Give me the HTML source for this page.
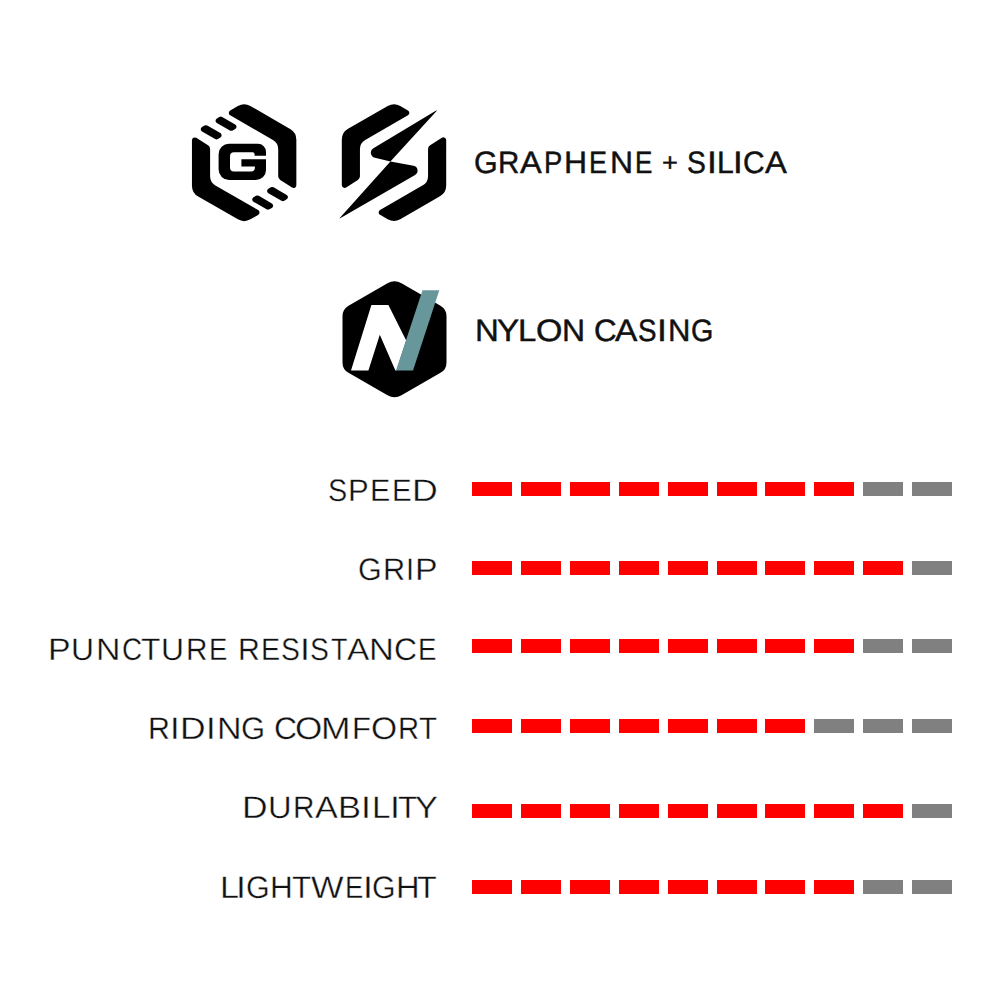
<!DOCTYPE html>
<html><head><meta charset="utf-8"><style>
html,body{margin:0;padding:0;background:#fff;width:1000px;height:1000px;overflow:hidden}
body{position:relative;font-family:"Liberation Sans",sans-serif;color:#111}
.ic{position:absolute;left:0;top:0}
i{position:absolute;width:40px;height:14px;display:block}
b.c{position:absolute;font-weight:400;font-size:31px;line-height:31px;white-space:nowrap;transform-origin:0 0;-webkit-text-stroke:0.35px #fff;text-rendering:geometricPrecision}
b.h{-webkit-text-stroke:0.45px #111}
</style></head><body>
<svg class="ic" width="1000" height="420" viewBox="0 0 1000 420"><path fill="#000" d="M230.2,110.48L237.9,106.03A12.5,12.5 0 0 1 250.4,106.03L290.1,128.95A12.5,12.5 0 0 1 296.35,139.78L296.35,185.19A2.8,2.8 0 0 1 292.04,187.55L280.28,180.03A4.5,4.5 0 0 1 278.2,176.24L278.2,149.1A10.5,10.5 0 0 0 272.95,140.01L230.2,115.33A2.8,2.8 0 0 1 230.2,110.48ZM258.1,214.92L250.4,219.37A12.5,12.5 0 0 1 237.9,219.37L198.2,196.45A12.5,12.5 0 0 1 191.95,185.62L191.95,140.21A2.8,2.8 0 0 1 196.26,137.85L208.02,145.37A4.5,4.5 0 0 1 210.1,149.16L210.1,176.3A10.5,10.5 0 0 0 215.35,185.39L258.1,210.07A2.8,2.8 0 0 1 258.1,214.92ZM286.7,199.33L284.25,200.75A2.8,2.8 0 0 1 281.45,200.75L268.35,193.18A2.57,2.57 0 0 1 268.35,188.74L270.8,187.32A2.8,2.8 0 0 1 273.6,187.32L286.7,194.89A2.57,2.57 0 0 1 286.7,199.33ZM202,126.97L204.45,125.55A2.8,2.8 0 0 1 207.25,125.55L220.35,133.12A2.57,2.57 0 0 1 220.35,137.56L217.9,138.98A2.8,2.8 0 0 1 215.1,138.98L202,131.41A2.57,2.57 0 0 1 202,126.97ZM271.85,207.91L269.35,209.35A2.8,2.8 0 0 1 266.55,209.35L253.5,201.82A2.6,2.6 0 0 1 253.5,197.31L256,195.87A2.8,2.8 0 0 1 258.8,195.87L271.85,203.4A2.6,2.6 0 0 1 271.85,207.91ZM216.85,118.39L219.35,116.95A2.8,2.8 0 0 1 222.15,116.95L235.2,124.48A2.6,2.6 0 0 1 235.2,128.99L232.7,130.43A2.8,2.8 0 0 1 229.9,130.43L216.85,122.9A2.6,2.6 0 0 1 216.85,118.39ZM407.95,110.38L400.25,105.93A12.5,12.5 0 0 0 387.75,105.93L348.05,128.85A12.5,12.5 0 0 0 341.8,139.68L341.8,185.09A2.8,2.8 0 0 0 346.11,187.45L357.87,179.93A4.5,4.5 0 0 0 359.95,176.14L359.95,149A10.5,10.5 0 0 1 365.2,139.91L407.95,115.23A2.8,2.8 0 0 0 407.95,110.38ZM380.05,214.82L387.75,219.27A12.5,12.5 0 0 0 400.25,219.27L439.95,196.35A12.5,12.5 0 0 0 446.2,185.52L446.2,140.11A2.8,2.8 0 0 0 441.89,137.75L430.13,145.27A4.5,4.5 0 0 0 428.05,149.06L428.05,176.2A10.5,10.5 0 0 1 422.8,185.29L380.05,209.97A2.8,2.8 0 0 0 380.05,214.82ZM436.23,110.56L373.41,148.14A5.3,5.3 0 0 0 374.94,157.85L390.4,161.4L436.61,111.02A0.3,0.3 0 0 0 436.23,110.56ZM390.4,161.4L413.54,165.86A5,5 0 0 1 415.09,175.1L340.13,218.36A0.3,0.3 0 0 1 339.75,217.9L390.4,161.4ZM266,155.7L266,152A8,8 0 0 0 258,143.8L229,143.8A10.4,10.4 0 0 0 218.6,154.2L218.6,169.6A10.4,10.4 0 0 0 229,180L256,180A10,10 0 0 0 266,170L266,159.2L241.4,159.2L241.4,166.6L254.9,166.6L254.9,167.6A4,4 0 0 1 250.9,171.6L234,171.6A4,4 0 0 1 230,167.6L230,156.3A4,4 0 0 1 234,152.3L252.6,152.3A2,2 0 0 1 254.6,154.3L254.6,155.7Z"/><path fill="#000" d="M401.5,283.35L440.5,305.86A12,12 0 0 1 446.5,316.26L446.5,362.44A12,12 0 0 1 440.5,372.84L401.5,395.35A14,14 0 0 1 387.5,395.35L348.5,372.84A12,12 0 0 1 342.5,362.44L342.5,316.26A12,12 0 0 1 348.5,305.86L387.5,283.35A14,14 0 0 1 401.5,283.35Z"/><path fill="#fff" d="M351,370.5L371.4,305.1L388.4,305.1L406.2,340.5L396.5,370.5L395.4,370.5L379.8,334.8L368.4,370.5Z"/><path fill="#67979b" d="M422.5,290.2L439.3,290.2L413,370.5L396,370.5Z"/></svg><i style="left:472.0px;top:482px;background:#ff0000"></i><i style="left:520.9px;top:482px;background:#ff0000"></i><i style="left:569.8px;top:482px;background:#ff0000"></i><i style="left:618.7px;top:482px;background:#ff0000"></i><i style="left:667.6px;top:482px;background:#ff0000"></i><i style="left:716.5px;top:482px;background:#ff0000"></i><i style="left:765.4px;top:482px;background:#ff0000"></i><i style="left:814.3px;top:482px;background:#ff0000"></i><i style="left:863.2px;top:482px;background:#808080"></i><i style="left:912.1px;top:482px;background:#808080"></i><i style="left:472.0px;top:561px;background:#ff0000"></i><i style="left:520.9px;top:561px;background:#ff0000"></i><i style="left:569.8px;top:561px;background:#ff0000"></i><i style="left:618.7px;top:561px;background:#ff0000"></i><i style="left:667.6px;top:561px;background:#ff0000"></i><i style="left:716.5px;top:561px;background:#ff0000"></i><i style="left:765.4px;top:561px;background:#ff0000"></i><i style="left:814.3px;top:561px;background:#ff0000"></i><i style="left:863.2px;top:561px;background:#ff0000"></i><i style="left:912.1px;top:561px;background:#808080"></i><i style="left:472.0px;top:639px;background:#ff0000"></i><i style="left:520.9px;top:639px;background:#ff0000"></i><i style="left:569.8px;top:639px;background:#ff0000"></i><i style="left:618.7px;top:639px;background:#ff0000"></i><i style="left:667.6px;top:639px;background:#ff0000"></i><i style="left:716.5px;top:639px;background:#ff0000"></i><i style="left:765.4px;top:639px;background:#ff0000"></i><i style="left:814.3px;top:639px;background:#ff0000"></i><i style="left:863.2px;top:639px;background:#808080"></i><i style="left:912.1px;top:639px;background:#808080"></i><i style="left:472.0px;top:719px;background:#ff0000"></i><i style="left:520.9px;top:719px;background:#ff0000"></i><i style="left:569.8px;top:719px;background:#ff0000"></i><i style="left:618.7px;top:719px;background:#ff0000"></i><i style="left:667.6px;top:719px;background:#ff0000"></i><i style="left:716.5px;top:719px;background:#ff0000"></i><i style="left:765.4px;top:719px;background:#ff0000"></i><i style="left:814.3px;top:719px;background:#808080"></i><i style="left:863.2px;top:719px;background:#808080"></i><i style="left:912.1px;top:719px;background:#808080"></i><i style="left:472.0px;top:804px;background:#ff0000"></i><i style="left:520.9px;top:804px;background:#ff0000"></i><i style="left:569.8px;top:804px;background:#ff0000"></i><i style="left:618.7px;top:804px;background:#ff0000"></i><i style="left:667.6px;top:804px;background:#ff0000"></i><i style="left:716.5px;top:804px;background:#ff0000"></i><i style="left:765.4px;top:804px;background:#ff0000"></i><i style="left:814.3px;top:804px;background:#ff0000"></i><i style="left:863.2px;top:804px;background:#ff0000"></i><i style="left:912.1px;top:804px;background:#808080"></i><i style="left:472.0px;top:880px;background:#ff0000"></i><i style="left:520.9px;top:880px;background:#ff0000"></i><i style="left:569.8px;top:880px;background:#ff0000"></i><i style="left:618.7px;top:880px;background:#ff0000"></i><i style="left:667.6px;top:880px;background:#ff0000"></i><i style="left:716.5px;top:880px;background:#ff0000"></i><i style="left:765.4px;top:880px;background:#ff0000"></i><i style="left:814.3px;top:880px;background:#ff0000"></i><i style="left:863.2px;top:880px;background:#808080"></i><i style="left:912.1px;top:880px;background:#808080"></i><b class="c h" style="left:474.10px;top:146.80px;transform:scaleX(0.981)">G</b><b class="c h" style="left:498.23px;top:146.80px;transform:scaleX(0.951)">R</b><b class="c h" style="left:519.76px;top:146.80px;transform:scaleX(1.052)">A</b><b class="c h" style="left:544.39px;top:146.80px;transform:scaleX(0.884)">P</b><b class="c h" style="left:564.04px;top:146.80px;transform:scaleX(1.030)">H</b><b class="c h" style="left:589.42px;top:146.80px;transform:scaleX(0.871)">E</b><b class="c h" style="left:609.54px;top:146.80px;transform:scaleX(1.030)">N</b><b class="c h" style="left:634.99px;top:146.80px;transform:scaleX(0.841)">E</b><b class="c h" style="left:662.29px;top:146.80px;transform:scale(0.879,0.820);transform-origin:0 15.5px">+</b><b class="c h" style="left:687.21px;top:146.80px;transform:scaleX(0.912)">S</b><b class="c h" style="left:706.63px;top:146.80px;transform:scaleX(1.150)">I</b><b class="c h" style="left:716.68px;top:146.80px;transform:scaleX(0.975)">L</b><b class="c h" style="left:733.43px;top:146.80px;transform:scaleX(1.128)">I</b><b class="c h" style="left:743.00px;top:146.80px;transform:scaleX(0.966)">C</b><b class="c h" style="left:764.56px;top:146.80px;transform:scaleX(1.057)">A</b><b class="c h" style="left:474.66px;top:315.30px;transform:scaleX(1.064)">N</b><b class="c h" style="left:496.91px;top:315.30px;transform:scaleX(1.069)">Y</b><b class="c h" style="left:518.47px;top:315.30px;transform:scaleX(1.060)">L</b><b class="c h" style="left:535.69px;top:315.30px;transform:scaleX(1.096)">O</b><b class="c h" style="left:562.34px;top:315.30px;transform:scaleX(1.030)">N</b><b class="c h" style="left:594.43px;top:315.30px;transform:scaleX(1.011)">C</b><b class="c h" style="left:615.15px;top:315.30px;transform:scaleX(1.081)">A</b><b class="c h" style="left:637.53px;top:315.30px;transform:scaleX(0.895)">S</b><b class="c h" style="left:656.68px;top:315.30px;transform:scaleX(1.150)">I</b><b class="c h" style="left:667.61px;top:315.30px;transform:scaleX(1.001)">N</b><b class="c h" style="left:691.37px;top:315.30px;transform:scaleX(0.927)">G</b><b class="c" style="left:328.18px;top:474.80px;transform:scaleX(0.931)">S</b><b class="c" style="left:348.27px;top:474.80px;transform:scaleX(1.001)">P</b><b class="c" style="left:370.22px;top:474.80px;transform:scaleX(0.984)">E</b><b class="c" style="left:392.12px;top:474.80px;transform:scaleX(0.952)">E</b><b class="c" style="left:411.71px;top:474.80px;transform:scaleX(1.149)">D</b><b class="c" style="left:358.00px;top:554.00px;transform:scaleX(0.983)">G</b><b class="c" style="left:382.91px;top:554.00px;transform:scaleX(0.989)">R</b><b class="c" style="left:405.93px;top:554.00px;transform:scaleX(0.936)">I</b><b class="c" style="left:415.39px;top:554.00px;transform:scaleX(1.091)">P</b><b class="c" style="left:48.09px;top:633.80px;transform:scaleX(1.091)">P</b><b class="c" style="left:71.28px;top:633.80px;transform:scaleX(1.026)">U</b><b class="c" style="left:95.59px;top:633.80px;transform:scaleX(1.092)">N</b><b class="c" style="left:122.08px;top:633.80px;transform:scaleX(0.899)">C</b><b class="c" style="left:141.26px;top:633.80px;transform:scaleX(1.023)">T</b><b class="c" style="left:160.78px;top:633.80px;transform:scaleX(1.026)">U</b><b class="c" style="left:185.50px;top:633.80px;transform:scaleX(0.960)">R</b><b class="c" style="left:209.22px;top:633.80px;transform:scaleX(0.889)">E</b><b class="c" style="left:237.75px;top:633.80px;transform:scaleX(0.977)">R</b><b class="c" style="left:260.50px;top:633.80px;transform:scaleX(0.927)">E</b><b class="c" style="left:280.82px;top:633.80px;transform:scaleX(0.913)">S</b><b class="c" style="left:300.04px;top:633.80px;transform:scaleX(1.150)">I</b><b class="c" style="left:310.22px;top:633.80px;transform:scaleX(0.913)">S</b><b class="c" style="left:331.05px;top:633.80px;transform:scaleX(0.867)">T</b><b class="c" style="left:346.85px;top:633.80px;transform:scaleX(1.078)">A</b><b class="c" style="left:368.83px;top:633.80px;transform:scaleX(1.110)">N</b><b class="c" style="left:393.70px;top:633.80px;transform:scaleX(1.030)">C</b><b class="c" style="left:417.80px;top:633.80px;transform:scaleX(0.895)">E</b><b class="c" style="left:148.19px;top:712.90px;transform:scaleX(0.980)">R</b><b class="c" style="left:170.10px;top:712.90px;transform:scaleX(1.115)">I</b><b class="c" style="left:180.18px;top:712.90px;transform:scaleX(1.143)">D</b><b class="c" style="left:206.35px;top:712.90px;transform:scaleX(1.115)">I</b><b class="c" style="left:216.57px;top:712.90px;transform:scaleX(1.098)">N</b><b class="c" style="left:240.97px;top:712.90px;transform:scaleX(0.999)">G</b><b class="c" style="left:274.10px;top:712.90px;transform:scaleX(1.030)">C</b><b class="c" style="left:294.60px;top:712.90px;transform:scaleX(1.133)">O</b><b class="c" style="left:321.33px;top:712.90px;transform:scaleX(1.141)">M</b><b class="c" style="left:351.87px;top:712.90px;transform:scaleX(1.002)">F</b><b class="c" style="left:370.71px;top:712.90px;transform:scaleX(1.083)">O</b><b class="c" style="left:398.35px;top:712.90px;transform:scaleX(0.943)">R</b><b class="c" style="left:419.05px;top:712.90px;transform:scaleX(0.951)">T</b><b class="c" style="left:241.93px;top:792.00px;transform:scaleX(1.143)">D</b><b class="c" style="left:268.20px;top:792.00px;transform:scaleX(1.055)">U</b><b class="c" style="left:293.00px;top:792.00px;transform:scaleX(0.960)">R</b><b class="c" style="left:314.73px;top:792.00px;transform:scaleX(1.104)">A</b><b class="c" style="left:337.83px;top:792.00px;transform:scaleX(1.110)">B</b><b class="c" style="left:361.14px;top:792.00px;transform:scaleX(1.150)">I</b><b class="c" style="left:371.55px;top:792.00px;transform:scaleX(1.071)">L</b><b class="c" style="left:389.54px;top:792.00px;transform:scaleX(1.150)">I</b><b class="c" style="left:398.34px;top:792.00px;transform:scaleX(1.041)">T</b><b class="c" style="left:414.65px;top:792.00px;transform:scaleX(1.105)">Y</b><b class="c" style="left:219.55px;top:871.50px;transform:scaleX(1.103)">L</b><b class="c" style="left:236.14px;top:871.50px;transform:scaleX(1.150)">I</b><b class="c" style="left:246.10px;top:871.50px;transform:scaleX(0.983)">G</b><b class="c" style="left:269.72px;top:871.50px;transform:scaleX(1.019)">H</b><b class="c" style="left:291.78px;top:871.50px;transform:scaleX(1.011)">T</b><b class="c" style="left:310.77px;top:871.50px;transform:scaleX(1.112)">W</b><b class="c" style="left:345.42px;top:871.50px;transform:scaleX(0.889)">E</b><b class="c" style="left:362.94px;top:871.50px;transform:scaleX(1.150)">I</b><b class="c" style="left:372.41px;top:871.50px;transform:scaleX(0.978)">G</b><b class="c" style="left:395.80px;top:871.50px;transform:scaleX(1.055)">H</b><b class="c" style="left:417.44px;top:871.50px;transform:scaleX(1.041)">T</b>
</body></html>
